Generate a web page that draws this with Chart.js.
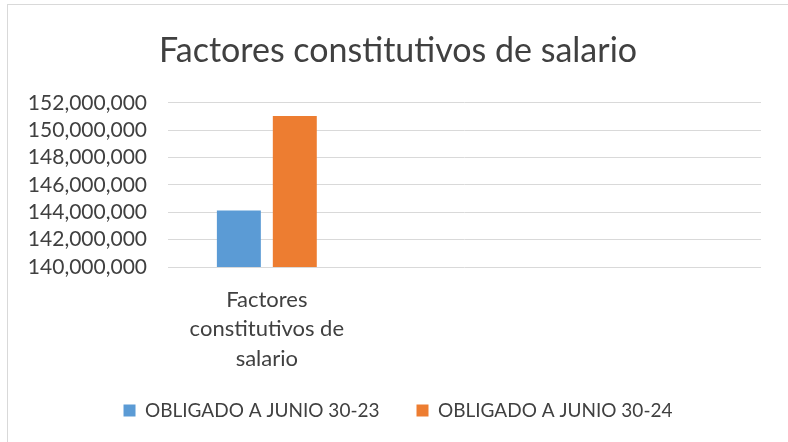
<!DOCTYPE html>
<html>
<head>
<meta charset="utf-8">
<script src="https://cdn.jsdelivr.net/npm/chart.js@4"></script>
<style>
  html, body { margin: 0; padding: 0; background: #ffffff; }
  #wrap { position: relative; width: 788px; height: 442px; overflow: hidden; }
  #frame { position: absolute; left: 7px; top: 4px; width: 790px; height: 460px; border: 1px solid #d9d9d9; box-sizing: border-box; }
  canvas { position: absolute; left: 0; top: 0; }
</style>
</head>
<body>
<div id="wrap">
  <div id="frame"></div>
  <canvas id="c" width="788" height="442"></canvas>
</div>
<script>
const chartTitle = "Factores constitutivos de salario";
const categories = ["Factores constitutivos de salario", "", ""];
const categoryTickLabels = [["Factores", "constitutivos de", "salario"], "", ""];
const seriesNames = ["OBLIGADO A JUNIO 30-23", "OBLIGADO A JUNIO 30-24"];
const obligado2023 = [144120000, null, null];
const obligado2024 = [151040000, null, null];
const yMin = 140000000;
const yMax = 152000000;
const yStep = 2000000;

const textColor = "#404040";
const fontFamily = "Lato, 'Noto Sans', sans-serif";
const noLabelClip = (s) => { s._computeLabelArea = () => undefined; };

new Chart(document.getElementById("c"), {
  type: "bar",
  data: {
    labels: categories,
    datasets: [
      { label: seriesNames[0], data: obligado2023, backgroundColor: "#5B9BD5", borderWidth: 0 },
      { label: seriesNames[1], data: obligado2024, backgroundColor: "#ED7D31", borderWidth: 0 }
    ]
  },
  options: {
    responsive: false,
    animation: false,
    devicePixelRatio: 1,
    categoryPercentage: 0.566,
    barPercentage: 0.786,
    layout: { padding: { left: 35, right: 27, top: 0, bottom: 12 } },
    plugins: {
      title: {
        display: true,
        text: chartTitle,
        color: textColor,
        font: { family: fontFamily, size: 34, weight: "normal" },
        padding: { top: 31, bottom: 31 }
      },
      legend: {
        display: true,
        position: "bottom",
        labels: {
          color: textColor,
          font: { family: fontFamily, size: 19 },
          boxWidth: 12,
          boxHeight: 12,
          padding: 37
        }
      },
      tooltip: { enabled: false }
    },
    scales: {
      x: {
        labels: categoryTickLabels,
        grid: { display: false },
        border: { display: false },
        ticks: {
          color: textColor,
          font: { family: fontFamily, size: 22, lineHeight: 1.34 },
          padding: 10,
          maxRotation: 0,
          autoSkip: false
        },
        afterFit: (s) => { s.height = 97; noLabelClip(s); }
      },
      y: {
        min: yMin,
        max: yMax,
        border: { display: false },
        grid: { color: "#d9d9d9", lineWidth: 1, drawTicks: false },
        ticks: {
          stepSize: yStep,
          autoSkip: false,
          color: textColor,
          font: { family: fontFamily, size: 21 },
          padding: 21,
          callback: (v) => Number(v).toLocaleString("en-US")
        },
        afterFit: (s) => { s.width = 133; noLabelClip(s); }
      }
    }
  }
});
</script>
</body>
</html>
